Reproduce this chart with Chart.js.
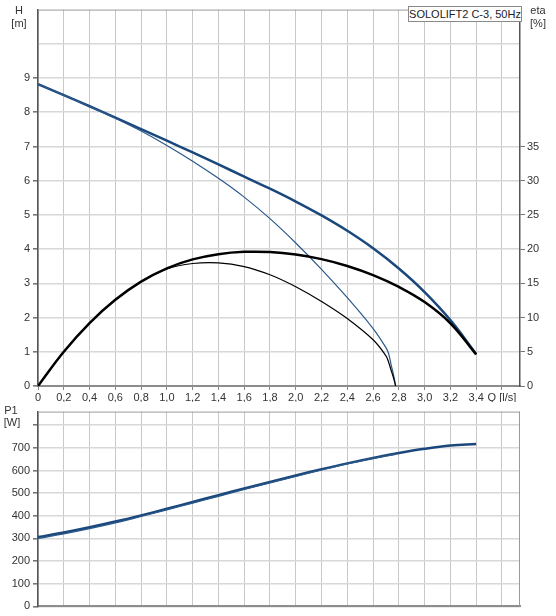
<!DOCTYPE html>
<html><head><meta charset="utf-8">
<script src="https://cdn.jsdelivr.net/npm/chart.js@4/dist/chart.umd.min.js"></script>
<style>
body{margin:0;background:#fff;width:556px;height:616px;position:relative;overflow:hidden;font-family:"Liberation Sans",Arial,sans-serif;}
canvas{position:absolute;left:0;}
#c1{top:0}
#c2{top:402px}
.t{position:absolute;font-size:11px;color:#333;line-height:12px;white-space:nowrap;transform:translateX(-50%);}
#box{position:absolute;left:408px;top:6px;width:112px;height:14px;border:1px solid #8a8a8a;background:#fff;font-size:11px;line-height:14px;text-align:center;color:#222;white-space:nowrap}
</style></head><body>
<canvas id="c1" width="556" height="402"></canvas>
<canvas id="c2" width="556" height="214"></canvas>
<div class="t" style="left:19px;top:4px">H</div>
<div class="t" style="left:19px;top:17px">[m]</div>
<div class="t" style="left:538px;top:4px">eta</div>
<div class="t" style="left:538px;top:17px">[%]</div>
<div class="t" style="left:11px;top:404px">P1</div>
<div class="t" style="left:12px;top:416px">[W]</div>
<div id="box">SOLOLIFT2 C-3, 50Hz</div>
<script>
// ---- data ----
const qMain   = [0,0.2,0.4,0.6,0.8,1.0,1.2,1.4,1.6,1.8,2.0,2.2,2.4,2.6,2.8,3.0,3.2,3.4];
const hMain   = [8.82,8.50,8.175,7.845,7.51,7.17,6.825,6.475,6.12,5.765,5.39,4.985,4.535,4.025,3.435,2.745,1.925,0.935];
const etaMain = [0,5.0,9.2,12.6,15.25,17.2,18.5,19.26,19.6,19.58,19.22,18.54,17.54,16.2,14.48,12.26,9.16,4.6];
const pMain   = [306,326,349,374.5,402,431,461,491,520.5,549.5,578,605.5,631.5,655.5,677,695.5,710,717.5];

const qThin   = [0,0.2,0.4,0.6,0.8,1.0,1.2,1.4,1.6,1.8,2.0,2.2,2.4,2.6,2.7,2.72,2.74,2.76,2.775];
const hThin   = [8.82,8.5,8.17,7.825,7.45,7.03,6.57,6.07,5.52,4.89,4.18,3.41,2.58,1.68,1.12,0.95,0.62,0.3,0];
const etaThin = [0,5.0,9.2,12.6,15.25,17.1,17.9,18.0,17.45,16.25,14.5,12.35,9.85,6.75,4.4,3.5,2.3,1.1,0];
const pThin   = [300,320,343,368.5,397,426,456,486,516.5,545.5,574,602.5,629.5,653.5,664,666,668,670,672];

const qTickLabels   = ['0','0,2','0,4','0,6','0,8','1,0','1,2','1,4','1,6','1,8','2,0','2,2','2,4','2,6','2,8','3,0','3,2','3,4','Q [l/s]'];
const hTickLabels   = ['0','1','2','3','4','5','6','7','8','9'];
const etaTickLabels = ['0','5','10','15','20','25','30','35'];
const pTickLabels   = ['0','100','200','300','400','500','600','700'];

// ---- helpers ----
const pts = (xs, ys) => xs.map((x, i) => ({x: x, y: ys[i]}));
const CLEAR = 'rgba(0,0,0,0)';
const BLUE_THICK = '#1b487c', BLUE_THIN = '#2b588a';

Chart.defaults.font.family = '"Liberation Sans", Arial, sans-serif';
Chart.defaults.font.size = 11;
Chart.defaults.color = '#333';

function line(data, color, width, axis) {
  return {data: data, borderColor: color, borderWidth: width, pointRadius: 0,
          showLine: true, fill: false, yAxisID: axis, tension: 0.4};
}

const frameTop = {
  id: 'frameTop',
  beforeDatasetsDraw(chart, args, opts) {
    const a = chart.chartArea, c = chart.ctx;
    c.save();
    c.strokeStyle = '#9a9a9a';
    c.lineWidth = 1;
    c.beginPath();
    c.moveTo(a.left, a.top + 0.5);
    c.lineTo(a.right, a.top + 0.5);
    if (opts.right) { c.moveTo(a.right - 0.5, a.top); c.lineTo(a.right - 0.5, a.bottom); }
    c.stroke();
    c.restore();
  }
};

const xScale = (showLabels, h) => ({
  type: 'linear', min: 0, max: 3.74,
  afterFit: s => { s.height = h; },
  grid: {color: '#c8c8c8', lineWidth: 1, tickLength: 4, drawTicks: showLabels, tickColor: '#888'},
  border: {color: '#8c8c8c', width: 2},
  ticks: {display: showLabels, stepSize: 0.2, includeBounds: false, autoSkip: false, maxRotation: 0,
          padding: 1, color: '#333',
          callback: v => qTickLabels[Math.round(v / 0.2)] ?? ''}
});

// ---- top chart ----
new Chart(document.getElementById('c1'), {
  type: 'scatter',
  data: {datasets: [
    line(pts(qThin, etaThin), '#000', 1.2, 'yEta'),
    line(pts(qMain, etaMain), '#000', 2.5, 'yEta'),
    line(pts(qThin, hThin), BLUE_THIN, 1.2, 'y'),
    line(pts(qMain, hMain), BLUE_THICK, 2.5, 'y')
  ]},
  options: {
    responsive: false, animation: false, devicePixelRatio: 1,
    layout: {autoPadding: false, padding: {top: 5, left: 0, right: 0, bottom: 0}},
    plugins: {legend: {display: false}, tooltip: {enabled: false}, frameTop: {right: false}},
    scales: {
      x: xScale(true, 16),
      y: {
        type: 'linear', position: 'left', min: 0, max: 11,
        afterFit: s => { s.width = 38; },
        grid: {color: c => (c.tick && c.tick.value >= 11) ? CLEAR : '#d8d8d8', lineWidth: 1.6,
               tickLength: 5, tickColor: c => (c.tick && c.tick.value > 9) ? CLEAR : '#777'},
        border: {color: '#555', width: 1.5},
        ticks: {stepSize: 1, autoSkip: false, padding: 3, color: '#333',
                callback: v => hTickLabels[v] ?? ''}
      },
      yEta: {
        type: 'linear', position: 'right', min: 0, max: 55,
        afterFit: s => { s.width = 36; },
        grid: {drawOnChartArea: false, tickLength: 5, tickColor: c => (c.tick && c.tick.value > 35) ? CLEAR : '#777'},
        border: {color: '#555', width: 1.5},
        ticks: {stepSize: 5, autoSkip: false, padding: 2, color: '#333',
                callback: v => etaTickLabels[v / 5] ?? ''}
      }
    }
  },
  plugins: [frameTop]
});

// ---- bottom chart ----
new Chart(document.getElementById('c2'), {
  type: 'scatter',
  data: {datasets: [
    line(pts(qThin, pThin), BLUE_THIN, 1.2, 'y'),
    line(pts(qMain, pMain), BLUE_THICK, 2.5, 'y')
  ]},
  options: {
    responsive: false, animation: false, devicePixelRatio: 1,
    layout: {autoPadding: false, padding: {top: 3, left: 0, right: 36, bottom: 0}},
    plugins: {legend: {display: false}, tooltip: {enabled: false}, frameTop: {right: true}},
    scales: {
      x: xScale(false, 8),
      y: {
        type: 'linear', position: 'left', min: 0, max: 860,
        afterFit: s => { s.width = 38; },
        grid: {color: c => (c.tick && c.tick.value > 800) ? CLEAR : '#d8d8d8', lineWidth: 1.6,
               tickLength: 5, tickColor: '#777'},
        border: {color: '#555', width: 1.5},
        ticks: {stepSize: 100, includeBounds: false, autoSkip: false, padding: 3, color: '#333',
                callback: v => pTickLabels[v / 100] ?? ''}
      }
    }
  },
  plugins: [frameTop]
});
</script>
</body></html>
